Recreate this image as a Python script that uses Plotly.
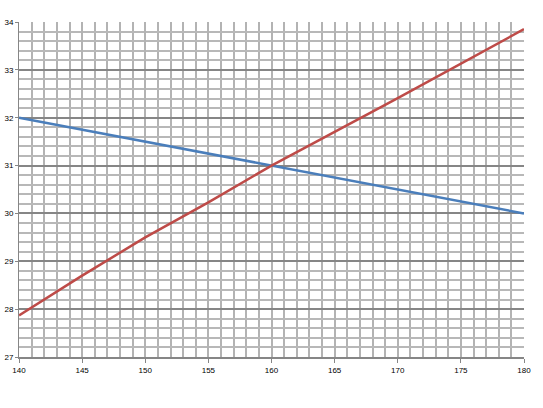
import plotly.graph_objects as go

x_blue = [140, 180]
y_blue = [32.0, 30.0]

x_red = [140, 145, 150, 155, 160, 170, 180]
y_red = [27.87, 28.7, 29.5, 30.23, 31.0, 32.41, 33.85]

x_ticks = [140, 145, 150, 155, 160, 165, 170, 175, 180]
y_ticks = [27, 28, 29, 30, 31, 32, 33, 34]

fig = go.Figure()
fig.add_trace(go.Scatter(x=x_blue, y=y_blue, mode="lines",
                         line=dict(color="#4a7ebb", width=2.5), showlegend=False))
fig.add_trace(go.Scatter(x=x_red, y=y_red, mode="lines",
                         line=dict(color="#be4b48", width=2.5), showlegend=False))

font = dict(family="Liberation Sans, Arial, sans-serif", size=8, color="#000000")

fig.update_layout(
    width=543, height=408,
    margin=dict(l=19, r=19, t=22, b=51),
    paper_bgcolor="white", plot_bgcolor="white",
    font=font,
    xaxis=dict(
        range=[140, 180], tickvals=x_ticks, ticktext=[str(v) for v in x_ticks],
        automargin=False,
        showgrid=True, gridcolor="#b3b3b3", gridwidth=2,
        minor=dict(dtick=1, tick0=140, showgrid=True, gridcolor="#b3b3b3", gridwidth=2),
        showline=True, linecolor="#868686", linewidth=2,
        ticks="outside", ticklen=4, tickcolor="#868686", tickwidth=1,
        zeroline=False, tickfont=font,
    ),
    yaxis=dict(
        range=[27, 34], tickvals=y_ticks, ticktext=[str(v) for v in y_ticks],
        automargin=False,
        showgrid=True, gridcolor="#868686", gridwidth=2,
        minor=dict(dtick=0.2, tick0=27, showgrid=True, gridcolor="#b8b8b8", gridwidth=1.5),
        showline=True, linecolor="#868686", linewidth=1,
        ticks="outside", ticklen=3, tickcolor="#868686", tickwidth=1,
        zeroline=False, tickfont=font,
    ),
)

fig.write_html(
    "out.html",
    config={"displayModeBar": False},
    post_script="document.body.style.margin='0';document.body.style.overflow='hidden';",
)
